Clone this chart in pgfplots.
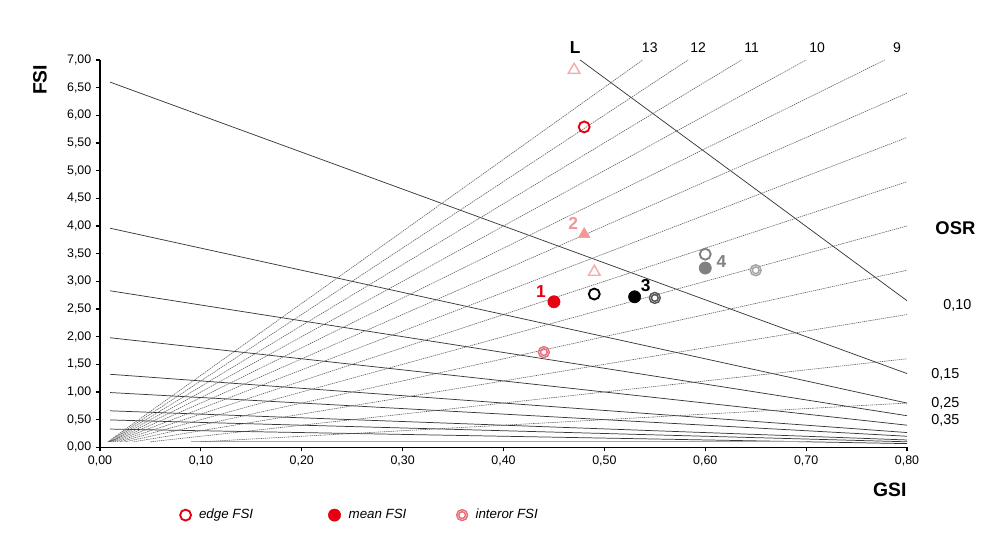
\documentclass[border=0pt]{standalone}
\usepackage{fontspec}
\setmainfont{Liberation Sans}
\usepackage{pgfplots}
\pgfplotsset{compat=1.18}
\definecolor{myred}{RGB}{230,0,18}
\definecolor{pinkA}{RGB}{242,150,150}
\definecolor{pinkB}{RGB}{245,172,172}
\definecolor{pinkC}{RGB}{232,110,120}
\definecolor{grayA}{RGB}{128,128,128}
\definecolor{grayB}{RGB}{165,165,165}
\definecolor{grayC}{RGB}{85,85,85}
\definecolor{osrc}{RGB}{55,55,55}
\definecolor{lc}{RGB}{95,95,95}
\pgfdeclareplotmark{dcirc}{%
  \pgfpathcircle{\pgfpointorigin}{\pgfplotmarksize}\pgfusepathqstroke
  \pgfpathcircle{\pgfpointorigin}{0.62\pgfplotmarksize}\pgfusepathqstroke}
\begin{document}
\begin{tikzpicture}
\useasboundingbox (0,0) rectangle (750pt,400.5pt);
\begin{axis}[
  at={(75pt,65pt)}, anchor=south west,
  scale only axis, width=605.25pt, height=290.5pt,
  xmin=0, xmax=0.8, ymin=0, ymax=7,
  axis lines=left,
  axis line style={-, line width=1pt, black},
  xtick={0,0.1,0.2,0.3,0.4,0.5,0.6,0.7,0.8},
  ytick={0,0.5,1,1.5,2,2.5,3,3.5,4,4.5,5,5.5,6,6.5,7},
  tick align=outside, major tick length=3pt,
  tick style={black, line width=0.8pt},
  ticklabel style={font=\fontsize{9.3}{11}\selectfont},
  /pgf/number format/.cd, fixed, fixed zerofill, precision=2, use comma, assume math mode=true,
  /pgfplots/.cd,
  clip=false,
  legend style={at={(axis description cs:0.094,-0.175)}, anchor=west, draw=none, fill=none,
    legend columns=3, font=\itshape\fontsize{10}{12}\selectfont,
    /tikz/every even column/.append style={column sep=0pt}},
  legend image code/.code={\draw[#1] plot coordinates {(0.2cm,0cm)};},
]
% OSR lines
\addplot[osrc, line width=0.55pt, forget plot] coordinates {(0.476,7.0) (0.8,2.65)};
\addplot[osrc, line width=0.55pt, forget plot] coordinates {(0.01,6.60) (0.8,1.333)};
\addplot[osrc, line width=0.55pt, forget plot] coordinates {(0.01,3.96) (0.8,0.80)};
\addplot[osrc, line width=0.55pt, forget plot] coordinates {(0.01,2.829) (0.8,0.571)};
\addplot[osrc, line width=0.55pt, forget plot] coordinates {(0.01,1.98) (0.8,0.40)};
\addplot[osrc, line width=0.55pt, forget plot] coordinates {(0.01,1.32) (0.8,0.267)};
\addplot[osrc, line width=0.55pt, forget plot] coordinates {(0.01,0.99) (0.8,0.20)};
\addplot[osrc, line width=0.55pt, forget plot] coordinates {(0.01,0.66) (0.8,0.133)};
\addplot[osrc, line width=0.55pt, forget plot] coordinates {(0.01,0.495) (0.8,0.10)};
\addplot[osrc, line width=0.55pt, forget plot] coordinates {(0.01,0.33) (0.8,0.067)};
\addplot[gray!70, line width=0.55pt, forget plot] coordinates {(0.09,0.1) (0.7,0.1)};
% L lines
\addplot[lc, line width=0.45pt, dash pattern=on 1pt off 0.6pt, forget plot] coordinates {(0.0077,0.1) (0.538,7.0)};
\addplot[lc, line width=0.45pt, dash pattern=on 1pt off 0.6pt, forget plot] coordinates {(0.0083,0.1) (0.583,7.0)};
\addplot[lc, line width=0.45pt, dash pattern=on 1pt off 0.6pt, forget plot] coordinates {(0.0091,0.1) (0.636,7.0)};
\addplot[lc, line width=0.45pt, dash pattern=on 1pt off 0.6pt, forget plot] coordinates {(0.0100,0.1) (0.700,7.0)};
\addplot[lc, line width=0.45pt, dash pattern=on 1pt off 0.6pt, forget plot] coordinates {(0.0111,0.1) (0.778,7.0)};
\addplot[lc, line width=0.45pt, dash pattern=on 1pt off 0.6pt, forget plot] coordinates {(0.0125,0.1) (0.8,6.4)};
\addplot[lc, line width=0.45pt, dash pattern=on 1pt off 0.6pt, forget plot] coordinates {(0.0143,0.1) (0.8,5.6)};
\addplot[lc, line width=0.45pt, dash pattern=on 1pt off 0.6pt, forget plot] coordinates {(0.0167,0.1) (0.8,4.8)};
\addplot[lc, line width=0.45pt, dash pattern=on 1pt off 0.6pt, forget plot] coordinates {(0.0200,0.1) (0.8,4.0)};
\addplot[lc, line width=0.45pt, dash pattern=on 1pt off 0.6pt, forget plot] coordinates {(0.0250,0.1) (0.8,3.2)};
\addplot[lc, line width=0.45pt, dash pattern=on 1pt off 0.6pt, forget plot] coordinates {(0.0333,0.1) (0.8,2.4)};
\addplot[lc, line width=0.45pt, dash pattern=on 1pt off 0.6pt, forget plot] coordinates {(0.0500,0.1) (0.8,1.6)};
\addplot[lc, line width=0.45pt, dash pattern=on 1pt off 0.6pt, forget plot] coordinates {(0.1000,0.1) (0.8,0.8)};
% data points
\addplot[only marks, mark=triangle, mark size=5pt, pinkB, line width=1.1pt, forget plot] coordinates {(0.47,6.82) (0.49,3.17)};
\addplot[only marks, mark=triangle*, mark size=5pt, pinkA, forget plot] coordinates {(0.48,3.85)};
\addplot[only marks, mark=dcirc, mark size=4.1pt, pinkC, line width=1.1pt, forget plot] coordinates {(0.44,1.72)};
\addplot[only marks, mark=*, mark size=4.6pt, black, forget plot] coordinates {(0.53,2.72)};
\addplot[only marks, mark=o, mark size=4.1pt, black, line width=1.4pt, forget plot] coordinates {(0.49,2.77)};
\addplot[only marks, mark=dcirc, mark size=4.1pt, grayC, line width=1.1pt, forget plot] coordinates {(0.55,2.70)};
\addplot[only marks, mark=o, mark size=4.1pt, grayA, line width=1.4pt, forget plot] coordinates {(0.60,3.49)};
\addplot[only marks, mark=*, mark size=4.6pt, grayA, forget plot] coordinates {(0.60,3.24)};
\addplot[only marks, mark=dcirc, mark size=4.1pt, grayB, line width=1.1pt, forget plot] coordinates {(0.65,3.20)};
\addplot[only marks, mark=o, mark size=4.1pt, myred, line width=1.4pt] coordinates {(0.48,5.79)};
\addlegendentry{\hspace{4pt}\makebox[95pt][l]{edge FSI}}
\addplot[only marks, mark=*, mark size=4.6pt, myred] coordinates {(0.45,2.63)};
\addlegendentry{\hspace{4pt}\makebox[79pt][l]{mean FSI}}
\addlegendimage{only marks, mark=dcirc, mark size=4.1pt, pinkC, line width=1.1pt}
\addlegendentry{\hspace{4pt}interor FSI}
% labels
\node[font=\bfseries\fontsize{13}{15}\selectfont] at (axis cs:0.471,7.23) {L};
\node[font=\fontsize{10.5}{12}\selectfont] at (axis cs:0.545,7.23) {13};
\node[font=\fontsize{10.5}{12}\selectfont] at (axis cs:0.593,7.23) {12};
\node[font=\fontsize{10.5}{12}\selectfont] at (axis cs:0.646,7.23) {11};
\node[font=\fontsize{10.5}{12}\selectfont] at (axis cs:0.711,7.23) {10};
\node[font=\fontsize{10.5}{12}\selectfont] at (axis cs:0.790,7.23) {9};
\node[font=\bfseries\fontsize{13.8}{16}\selectfont] at (axis cs:0.848,3.96) {OSR};
\node[font=\fontsize{10.8}{12}\selectfont] at (axis cs:0.850,2.57) {0,10};
\node[font=\fontsize{10.8}{12}\selectfont] at (axis cs:0.838,1.31) {0,15};
\node[font=\fontsize{10.8}{12}\selectfont] at (axis cs:0.838,0.80) {0,25};
\node[font=\fontsize{10.8}{12}\selectfont] at (axis cs:0.838,0.49) {0,35};
\node[font=\bfseries\fontsize{13}{15}\selectfont, myred] at (axis cs:0.437,2.81) {1};
\node[font=\bfseries\fontsize{13}{15}\selectfont, pinkA] at (axis cs:0.469,4.05) {2};
\node[font=\bfseries\fontsize{13}{15}\selectfont, black] at (axis cs:0.541,2.93) {3};
\node[font=\bfseries\fontsize{13}{15}\selectfont, grayA] at (axis cs:0.616,3.35) {4};
\node[font=\bfseries\fontsize{14.5}{16}\selectfont] at (axis cs:0.783,-0.77) {GSI};
\node[font=\bfseries\fontsize{14.5}{16}\selectfont, rotate=90] at (axis cs:-0.0595,6.64) {FSI};
\end{axis}
\end{tikzpicture}
\end{document}
